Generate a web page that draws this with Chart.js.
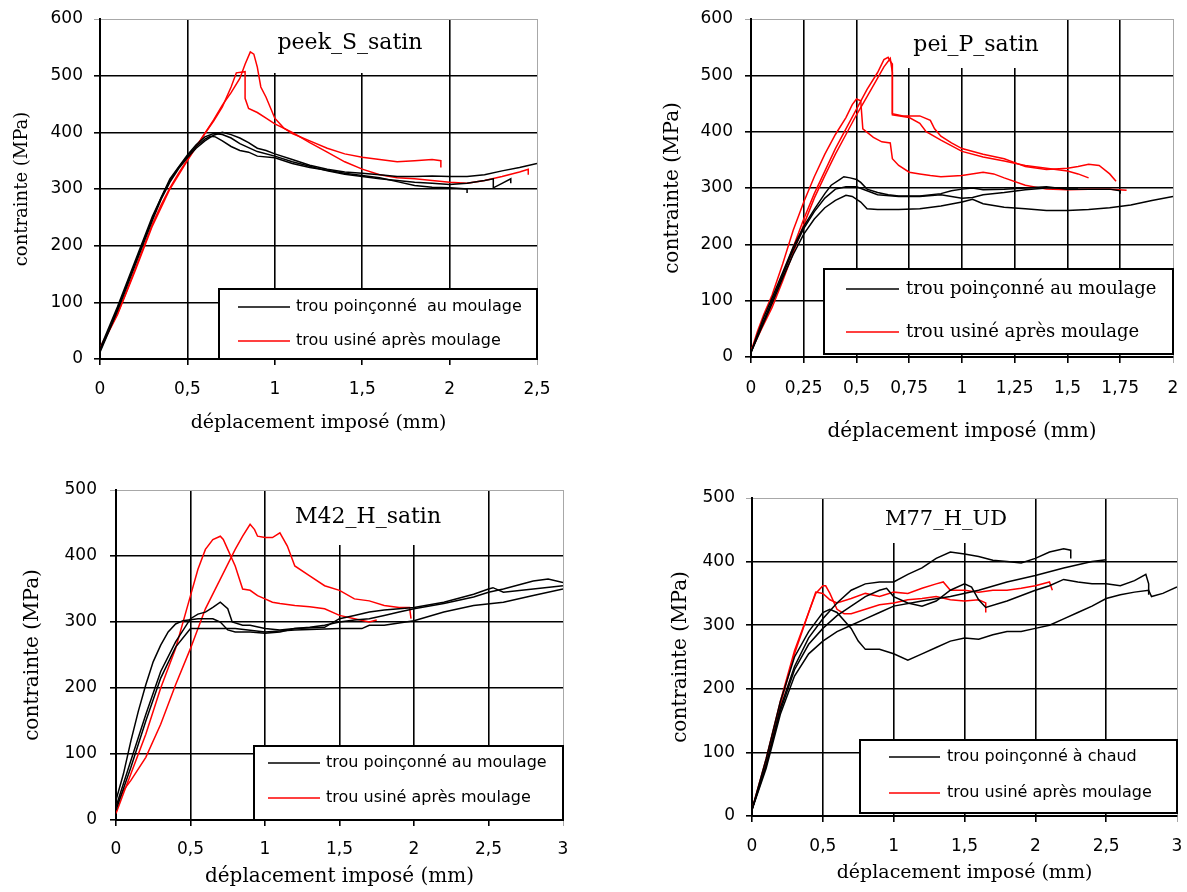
<!DOCTYPE html>
<html lang="fr">
<head>
<meta charset="utf-8">
<title>Contrainte / déplacement imposé</title>
<script src="https://cdn.jsdelivr.net/npm/chart.js@4.4.1/dist/chart.umd.min.js"></script>
<style>
  body { margin: 0; background: #fff; }
  .panel { position: absolute; }
</style>
</head>
<body>
<div class="panel" style="left:0;top:0"><canvas id="peek" width="593" height="446"></canvas></div>
<div class="panel" style="left:593px;top:0"><canvas id="pei" width="594" height="446"></canvas></div>
<div class="panel" style="left:0;top:446px"><canvas id="m42" width="593" height="446"></canvas></div>
<div class="panel" style="left:593px;top:446px"><canvas id="m77" width="594" height="446"></canvas></div>
<script>
// Tick labels
const yLabels600 = ['0', '100', '200', '300', '400', '500', '600'];
const yLabels500 = ['0', '100', '200', '300', '400', '500'];
const xLabels25 = ['0', '0,5', '1', '1,5', '2', '2,5'];
const xLabels2 = ['0', '0,25', '0,5', '0,75', '1', '1,25', '1,5', '1,75', '2'];
const xLabels3 = ['0', '0,5', '1', '1,5', '2', '2,5', '3'];

const xTitle = 'déplacement imposé (mm)';
const yTitle = 'contrainte (MPa)';

const legendMoulage = ['trou poinçonné  au moulage', 'trou usiné après moulage'];
const legendMoulage2 = ['trou poinçonné au moulage', 'trou usiné après moulage'];
const legendChaud = ['trou poinçonné à chaud', 'trou usiné après moulage'];

// peek_S_satin : [déplacement, contrainte]
const peekPunched1 = [[0,15],[0.05,50],[0.1,88],[0.15,128],[0.2,168],[0.25,208],[0.3,248],[0.35,285],[0.4,315],[0.45,338],[0.5,358],[0.55,375],[0.6,388],[0.63,393],[0.66,392],[0.7,385],[0.75,375],[0.8,368],[0.85,365],[0.9,358],[1.0,355],[1.1,345],[1.2,338],[1.3,333],[1.4,328],[1.5,324],[1.6,320],[1.7,313],[1.8,306],[1.9,303],[2.0,302],[2.1,300],[2.1,293]];
const peekPunched2 = [[0,12],[0.05,48],[0.1,85],[0.15,125],[0.2,165],[0.25,205],[0.3,245],[0.35,282],[0.4,312],[0.45,336],[0.5,355],[0.55,372],[0.6,385],[0.65,395],[0.7,400],[0.75,396],[0.8,390],[0.85,382],[0.9,372],[0.95,368],[1.0,362],[1.1,352],[1.2,342],[1.3,335],[1.4,330],[1.5,328],[1.6,325],[1.7,322],[1.8,322],[1.9,323],[2.0,322],[2.1,322],[2.2,325],[2.3,332],[2.4,338],[2.5,345]];
const peekPunched3 = [[0,18],[0.1,92],[0.2,172],[0.3,252],[0.4,318],[0.5,360],[0.55,378],[0.6,392],[0.65,398],[0.7,396],[0.75,390],[0.8,380],[0.9,366],[1.0,358],[1.1,348],[1.2,340],[1.3,332],[1.4,326],[1.5,322],[1.6,318],[1.7,315],[1.8,312],[1.9,310],[2.0,308],[2.1,310],[2.2,315],[2.25,318],[2.25,302],[2.3,310],[2.35,318],[2.35,310]];
const peekMachined1 = [[0,20],[0.05,50],[0.1,80],[0.15,118],[0.2,158],[0.25,198],[0.3,238],[0.35,272],[0.4,302],[0.45,328],[0.5,352],[0.55,375],[0.6,398],[0.65,422],[0.7,448],[0.75,470],[0.8,495],[0.83,520],[0.86,542],[0.88,538],[0.9,515],[0.92,480],[0.95,462],[1.0,425],[1.05,408],[1.1,398],[1.2,385],[1.3,372],[1.4,362],[1.5,356],[1.6,352],[1.7,348],[1.8,350],[1.9,352],[1.95,350],[1.95,338]];
const peekMachined2 = [[0,18],[0.1,78],[0.2,155],[0.3,235],[0.4,300],[0.5,350],[0.6,398],[0.65,420],[0.7,445],[0.75,480],[0.78,505],[0.83,507],[0.83,460],[0.85,442],[0.9,435],[0.95,425],[1.0,415],[1.1,400],[1.2,382],[1.3,365],[1.4,348],[1.5,335],[1.6,325],[1.7,320],[1.8,318],[1.9,315],[2.0,312],[2.1,310],[2.2,315],[2.3,322],[2.4,330],[2.45,335],[2.45,325]];

// pei_P_satin
const peiPunched1 = [[0,8],[0.03,40],[0.06,70],[0.1,105],[0.15,150],[0.2,195],[0.25,232],[0.3,262],[0.35,290],[0.38,305],[0.42,315],[0.44,320],[0.47,318],[0.5,315],[0.52,310],[0.55,298],[0.6,292],[0.65,288],[0.7,286],[0.8,286],[0.9,290],[0.95,295],[1.0,298],[1.05,300],[1.1,297],[1.2,298],[1.3,300],[1.4,302],[1.5,298],[1.6,298],[1.7,298],[1.75,295],[1.75,290]];
const peiPunched2 = [[0,8],[0.05,55],[0.1,100],[0.15,145],[0.2,190],[0.25,228],[0.3,258],[0.35,282],[0.4,298],[0.45,302],[0.5,302],[0.55,295],[0.6,288],[0.7,285],[0.8,285],[0.9,288],[1.0,282],[1.05,283],[1.1,288],[1.2,292],[1.3,297],[1.4,300],[1.5,300],[1.55,300]];
const peiPunched3 = [[0,8],[0.05,52],[0.1,95],[0.15,140],[0.2,182],[0.25,218],[0.3,245],[0.35,265],[0.4,278],[0.45,287],[0.48,285],[0.52,275],[0.55,263],[0.6,262],[0.7,262],[0.8,263],[0.9,268],[1.0,275],[1.05,280],[1.1,272],[1.2,266],[1.3,263],[1.4,260],[1.5,260],[1.6,262],[1.7,265],[1.8,270],[1.9,278],[2.0,285]];
const peiMachined1 = [[0,10],[0.03,45],[0.06,75],[0.1,110],[0.15,165],[0.2,225],[0.25,275],[0.3,320],[0.35,360],[0.4,395],[0.45,425],[0.48,448],[0.5,458],[0.52,455],[0.53,405],[0.58,390],[0.62,382],[0.66,380],[0.67,352],[0.7,340],[0.75,328],[0.8,325],[0.85,322],[0.9,320],[1.0,322],[1.1,328],[1.15,325],[1.2,318],[1.3,305],[1.4,298],[1.5,297],[1.6,298],[1.7,298],[1.78,296]];
const peiMachined2 = [[0,10],[0.05,55],[0.1,95],[0.15,145],[0.2,195],[0.25,245],[0.3,290],[0.35,330],[0.4,370],[0.45,405],[0.5,440],[0.55,475],[0.6,505],[0.63,528],[0.65,532],[0.66,525],[0.67,520],[0.67,432],[0.72,428],[0.8,428],[0.85,420],[0.87,405],[0.9,392],[0.95,380],[1.0,370],[1.1,360],[1.2,352],[1.25,345],[1.3,338],[1.4,333],[1.5,335],[1.55,338],[1.6,342],[1.65,340],[1.7,325],[1.73,312]];
const peiMachined3 = [[0,10],[0.05,50],[0.1,88],[0.15,135],[0.2,185],[0.25,235],[0.3,282],[0.35,322],[0.4,360],[0.45,395],[0.5,430],[0.55,462],[0.6,495],[0.63,515],[0.66,530],[0.67,505],[0.67,430],[0.75,425],[0.8,415],[0.83,400],[0.9,385],[1.0,365],[1.1,355],[1.2,348],[1.3,340],[1.4,335],[1.5,330],[1.55,325],[1.6,318]];

// M42_H_satin
const m42Punched1 = [[0,30],[0.05,70],[0.1,120],[0.15,165],[0.2,205],[0.25,240],[0.3,265],[0.35,285],[0.4,297],[0.45,302],[0.55,305],[0.65,305],[0.7,300],[0.75,288],[0.8,285],[0.9,285],[1.0,283],[1.1,285],[1.2,290],[1.3,292],[1.4,295],[1.5,300],[1.6,303],[1.7,305],[1.8,310],[1.9,315],[2.0,320],[2.2,328],[2.4,338],[2.5,345],[2.6,350],[2.8,362],[2.9,365],[3.0,360]];
const m42Punched2 = [[0,20],[0.1,90],[0.2,160],[0.3,225],[0.4,270],[0.5,305],[0.55,312],[0.6,315],[0.65,322],[0.7,330],[0.75,320],[0.78,300],[0.85,295],[0.9,295],[1.0,290],[1.1,288],[1.2,290],[1.4,292],[1.5,305],[1.6,310],[1.7,315],[1.8,318],[2.0,322],[2.2,330],[2.4,342],[2.5,350],[2.53,352],[2.6,345],[2.8,350],[3.0,355]];
const m42Punched3 = [[0,15],[0.1,80],[0.2,150],[0.3,215],[0.4,262],[0.5,290],[0.6,290],[0.7,290],[0.8,290],[1.0,285],[1.2,288],[1.5,290],[1.65,290],[1.7,295],[1.8,295],[2.0,302],[2.2,315],[2.4,325],[2.6,330],[2.8,340],[3.0,350]];
const m42Machined1 = [[0,10],[0.05,40],[0.1,70],[0.2,130],[0.3,200],[0.4,260],[0.5,340],[0.55,380],[0.6,410],[0.65,425],[0.7,430],[0.72,425],[0.75,410],[0.8,385],[0.85,350],[0.9,348],[0.95,340],[1.0,335],[1.05,330],[1.1,328],[1.2,325],[1.3,323],[1.4,320],[1.5,310],[1.6,305],[1.7,300],[1.75,303]];
const m42Machined2 = [[0,20],[0.05,45],[0.1,60],[0.2,95],[0.3,145],[0.4,205],[0.5,260],[0.6,320],[0.7,365],[0.8,410],[0.85,430],[0.9,448],[0.93,440],[0.95,430],[1.0,428],[1.05,428],[1.1,435],[1.15,415],[1.2,385],[1.3,370],[1.4,355],[1.5,348],[1.6,335],[1.7,332],[1.8,325],[1.9,322],[1.97,322],[1.98,305]];

// M77_H_UD
const m77Punched1 = [[0,10],[0.1,80],[0.2,170],[0.3,235],[0.4,280],[0.5,310],[0.6,335],[0.7,355],[0.8,365],[0.9,368],[1.0,368],[1.1,380],[1.2,390],[1.3,405],[1.4,415],[1.5,412],[1.6,408],[1.7,402],[1.8,400],[1.9,398],[2.0,405],[2.1,415],[2.2,420],[2.25,418],[2.25,405]];
const m77Punched2 = [[0,10],[0.1,90],[0.2,180],[0.3,250],[0.4,290],[0.5,320],[0.55,325],[0.6,320],[0.7,295],[0.75,275],[0.8,262],[0.9,262],[1.0,255],[1.1,245],[1.2,255],[1.3,265],[1.4,275],[1.5,280],[1.6,278],[1.7,285],[1.8,290],[1.9,290],[2.0,295],[2.1,300],[2.2,310],[2.3,320],[2.4,330],[2.5,342],[2.6,348],[2.7,352],[2.8,355],[2.82,345],[2.9,350],[3.0,360]];
const m77Punched3 = [[0,10],[0.1,75],[0.2,160],[0.3,220],[0.4,255],[0.5,275],[0.6,290],[0.7,300],[0.8,310],[0.9,320],[1.0,330],[1.2,338],[1.4,345],[1.6,355],[1.8,368],[2.0,378],[2.2,390],[2.4,400],[2.5,403]];
const m77Punched4 = [[0,10],[0.1,80],[0.2,165],[0.3,230],[0.4,270],[0.5,295],[0.6,315],[0.7,330],[0.8,345],[0.9,355],[0.95,358],[1.0,345],[1.1,335],[1.2,330],[1.3,338],[1.4,355],[1.5,365],[1.55,360],[1.6,340],[1.65,328],[1.8,338],[2.0,355],[2.1,362],[2.2,372],[2.3,368],[2.4,365],[2.5,365],[2.6,362],[2.7,370],[2.78,380],[2.8,365],[2.8,348]];
const m77Machined1 = [[0,10],[0.1,90],[0.2,180],[0.3,260],[0.4,320],[0.45,350],[0.5,362],[0.52,362],[0.55,350],[0.6,325],[0.65,318],[0.7,318],[0.8,325],[0.9,332],[1.0,335],[1.1,340],[1.2,342],[1.3,345],[1.4,340],[1.5,338],[1.6,340],[1.65,335],[1.65,320]];
const m77Machined2 = [[0,10],[0.1,85],[0.2,175],[0.3,255],[0.4,320],[0.45,352],[0.5,350],[0.55,340],[0.6,335],[0.7,342],[0.8,350],[0.9,345],[1.0,352],[1.1,350],[1.2,358],[1.3,365],[1.35,368],[1.4,355],[1.5,355],[1.6,352],[1.7,355],[1.8,355],[1.9,358],[2.0,362],[2.1,368],[2.12,355]];

const FONT_SANS = '"DejaVu Sans", Verdana, sans-serif';
const FONT_SERIF = '"DejaVu Serif", "Times New Roman", serif';

function toPoints(arr) {
    return arr.map(p => ({ x: p[0], y: p[1] }));
}

// title patch and in-plot legend box, positions relative to the chart area
const decorPlugin = {
    id: 'decor',
    beforeDatasetsDraw(chart, args, o) {
        const { ctx, chartArea: a } = chart;
        ctx.save();
        ctx.fillStyle = '#fff';
        ctx.fillRect(a.left + o.titleBox[0], a.top + o.titleBox[1], o.titleBox[2], o.titleBox[3]);
        ctx.fillStyle = '#000';
        ctx.font = o.titleSize + 'px ' + FONT_SERIF;
        ctx.textAlign = 'center';
        ctx.textBaseline = 'middle';
        ctx.fillText(o.title, a.left + o.titleAt[0], a.top + o.titleAt[1]);
        ctx.restore();
    },
    afterDatasetsDraw(chart, args, o) {
        const { ctx, chartArea: a } = chart;
        const b = o.box;
        ctx.save();
        ctx.fillStyle = '#fff';
        ctx.fillRect(a.left + b[0], a.top + b[1], b[2], b[3]);
        ctx.strokeStyle = '#000';
        ctx.lineWidth = 2;
        ctx.strokeRect(a.left + b[0], a.top + b[1], b[2], b[3]);
        ctx.font = o.font;
        ctx.textAlign = 'left';
        ctx.textBaseline = 'middle';
        ['#000', '#ff0000'].forEach((col, i) => {
            const y = a.top + o.rows[i];
            ctx.strokeStyle = col;
            ctx.lineWidth = 1.5;
            ctx.beginPath();
            ctx.moveTo(a.left + o.lineX[0], y);
            ctx.lineTo(a.left + o.lineX[1], y);
            ctx.stroke();
            ctx.fillStyle = '#000';
            ctx.fillText(o.labels[i], a.left + o.textX, y);
        });
        ctx.restore();
    }
};

function makePanel(id, p) {
    const line = (s, col) => ({
        data: toPoints(s),
        showLine: true,
        borderColor: col,
        borderWidth: 1.5,
        pointRadius: 0,
        tension: 0
    });
    const datasets = p.black.map(s => line(s, '#000')).concat(p.red.map(s => line(s, '#ff0000')));
    const gridColor = max => c => (c.tick && c.tick.value === max ? '#a8a8a8' : '#000');
    const gridWidth = max => c => (c.tick && c.tick.value === max ? 1 : 1.6);

    return new Chart(document.getElementById(id), {
        type: 'scatter',
        data: { datasets },
        plugins: [decorPlugin],
        options: {
            responsive: false,
            animation: false,
            devicePixelRatio: 1,
            layout: { padding: { left: 0, top: p.top, right: p.right, bottom: 0 } },
            plugins: {
                legend: { display: false },
                tooltip: { enabled: false },
                decor: p.decor
            },
            scales: {
                x: {
                    type: 'linear',
                    min: 0,
                    max: p.xMax,
                    afterFit: s => { s.height = p.xAxisH; s.paddingLeft = 0; s.paddingRight = 0; },
                    ticks: {
                        stepSize: p.xStep,
                        autoSkip: false,
                        maxRotation: 0,
                        padding: p.xTickPad,
                        color: '#000',
                        font: { family: FONT_SANS, size: 17 },
                        callback: (v, i) => p.xLabels[i]
                    },
                    grid: { color: gridColor(p.xMax), lineWidth: gridWidth(p.xMax), tickLength: 6 },
                    border: { color: '#000', width: 2 },
                    title: {
                        display: true,
                        text: xTitle,
                        color: '#000',
                        font: { family: FONT_SERIF, size: p.xTitleSize },
                        padding: { top: 0, bottom: p.xTitlePad }
                    }
                },
                y: {
                    min: 0,
                    max: p.yMax,
                    afterFit: s => { s.width = p.left; s.paddingTop = 0; s.paddingBottom = 0; },
                    ticks: {
                        stepSize: 100,
                        padding: p.yTickPad,
                        color: '#000',
                        font: { family: FONT_SANS, size: 17 },
                        callback: (v, i) => p.yLabels[i]
                    },
                    grid: { color: gridColor(p.yMax), lineWidth: gridWidth(p.yMax), tickLength: 6 },
                    border: { color: '#000', width: 2 },
                    title: {
                        display: true,
                        text: yTitle,
                        color: '#000',
                        font: { family: FONT_SERIF, size: p.yTitleSize },
                        padding: { top: p.yTitlePad, bottom: 0 }
                    }
                }
            }
        }
    });
}

makePanel('peek', {
    black: [peekPunched1, peekPunched2, peekPunched3],
    red: [peekMachined1, peekMachined2],
    xMax: 2.5, xStep: 0.5, xLabels: xLabels25,
    yMax: 600, yLabels: yLabels600,
    left: 100, top: 19, right: 56, xAxisH: 87,
    xTickPad: 14, yTickPad: 11,
    xTitleSize: 19, xTitlePad: 12, yTitleSize: 18, yTitlePad: 12,
    decor: {
        title: 'peek_S_satin', titleSize: 22, titleAt: [250, 24], titleBox: [168, 1, 164, 53],
        box: [119, 270, 318, 70], rows: [288, 322], lineX: [138, 190], textX: 196,
        font: '16px ' + FONT_SANS, labels: legendMoulage
    }
});

makePanel('pei', {
    black: [peiPunched1, peiPunched2, peiPunched3],
    red: [peiMachined1, peiMachined2, peiMachined3],
    xMax: 2, xStep: 0.25, xLabels: xLabels2,
    yMax: 600, yLabels: yLabels600,
    left: 158, top: 19, right: 14, xAxisH: 89,
    xTickPad: 15, yTickPad: 12,
    xTitleSize: 20, xTitlePad: 2, yTitleSize: 20, yTitlePad: 68,
    decor: {
        title: 'pei_P_satin', titleSize: 22, titleAt: [225, 26], titleBox: [149, 1, 150, 48],
        box: [73, 250, 349, 85], rows: [270, 313], lineX: [95, 148], textX: 155,
        font: '18px ' + FONT_SERIF, labels: legendMoulage2
    }
});

makePanel('m42', {
    black: [m42Punched1, m42Punched2, m42Punched3],
    red: [m42Machined1, m42Machined2],
    xMax: 3, xStep: 0.5, xLabels: xLabels3,
    yMax: 500, yLabels: yLabels500,
    left: 116, top: 44, right: 30, xAxisH: 72,
    xTickPad: 13, yTickPad: 13,
    xTitleSize: 20, xTitlePad: 3, yTitleSize: 20, yTitlePad: 21,
    decor: {
        title: 'M42_H_satin', titleSize: 22, titleAt: [252, 27], titleBox: [174, 1, 156, 54],
        box: [138, 256, 309, 74], rows: [273, 308], lineX: [152, 204], textX: 210,
        font: '16px ' + FONT_SANS, labels: legendMoulage2
    }
});

makePanel('m77', {
    black: [m77Punched1, m77Punched2, m77Punched3, m77Punched4],
    red: [m77Machined1, m77Machined2],
    xMax: 3, xStep: 0.5, xLabels: xLabels3,
    yMax: 500, yLabels: yLabels500,
    left: 159, top: 52, right: 10, xAxisH: 76,
    xTickPad: 14, yTickPad: 11,
    xTitleSize: 19, xTitlePad: 8, yTitleSize: 20, yTitlePad: 76,
    decor: {
        title: 'M77_H_UD', titleSize: 21, titleAt: [194, 22], titleBox: [133, 1, 125, 44],
        box: [108, 242, 317, 73], rows: [259, 295], lineX: [137, 188], textX: 195,
        font: '16px ' + FONT_SANS, labels: legendChaud
    }
});
</script>
</body>
</html>
